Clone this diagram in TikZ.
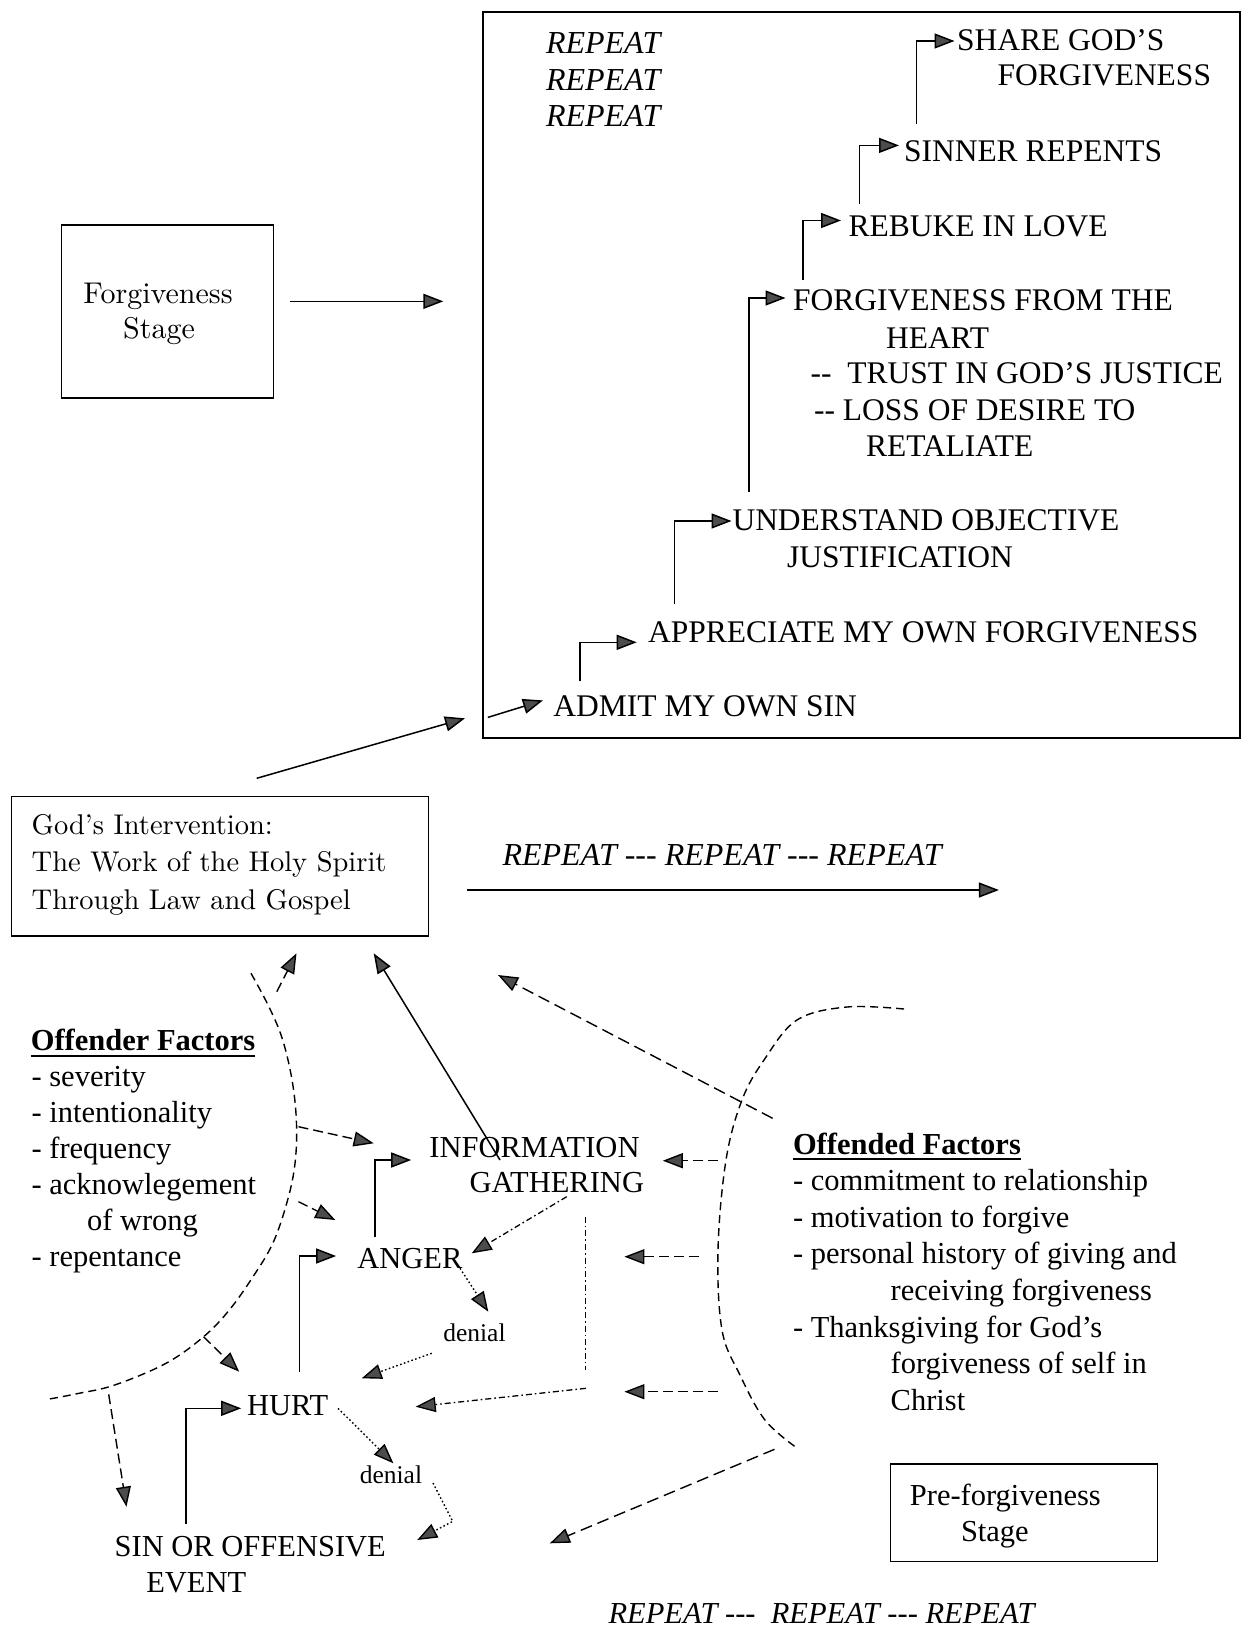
\documentclass[tikz,border=0pt]{standalone}
\usepackage{fontspec}
\newfontfamily\tnr{Liberation Serif}
\newfontfamily\lmten{lmroman10-regular.otf}
\usetikzlibrary{arrows.meta}

\begin{document}
\begin{tikzpicture}[x=1pt,y=-1pt,
  every node/.style={inner sep=0pt, outer sep=0pt},
  caps/.style={anchor=base west, font=\tnr\fontsize{31.5}{36}\selectfont},
  low/.style={anchor=base west, font=\tnr\fontsize{30.5}{36}\selectfont},
  lowb/.style={anchor=base west, font=\tnr\bfseries\fontsize{30.5}{36}\selectfont},
  rep/.style={anchor=base west, font=\tnr\itshape\fontsize{32}{36}\selectfont},
  repb/.style={anchor=base west, font=\tnr\itshape\fontsize{30.5}{36}\selectfont},
  small/.style={anchor=base west, font=\tnr\fontsize{25.5}{30}\selectfont},
  lm/.style={anchor=base west, font=\lmten\fontsize{28.5}{37}\selectfont},
  lmc/.style={anchor=base, font=\lmten\fontsize{30}{36}\selectfont},
  boxframe/.style={draw, line width=1.5pt, anchor=north west},
  ahead/.style={-{Triangle[length=20pt,width=15pt,fill=black!70]}},
  solidarr/.style={ahead, line width=1.5pt},
  dasharr/.style={ahead, line width=1.4pt, dash pattern=on 10pt off 5pt},
  longdash/.style={ahead, line width=1.4pt, dash pattern=on 12pt off 6pt},
  dotarr/.style={ahead, line width=1.4pt, dash pattern=on 1.6pt off 2.4pt},
  ddline/.style={line width=1.3pt, dash pattern=on 6pt off 3pt on 1.6pt off 3pt},
  arcline/.style={line width=1.4pt, dash pattern=on 8pt off 5pt},
  uline/.style={line width=1.5pt}
]
\useasboundingbox (0,0) rectangle (1241,1629);

% ---------- forgiveness stage ----------
\node[boxframe, minimum width=757pt, minimum height=726pt] (bigbox) at (482.8,12) {};
\node[boxframe, minimum width=211.6pt, minimum height=173.3pt] (fbox) at (61.7,224.9) {};
\node[lmc] (f1) at (158,303.3) {Forgiveness};
\node[lmc] (f2) at (159,338) {Stage};
\coordinate (fa) at ([xshift=16.7pt,yshift=10.2pt]fbox.east);
\draw[solidarr, shorten >=39.5pt] (fa) -- (fa -| bigbox.west);

\node[rep] (r1) at (546,54) {REPEAT};
\node[rep] (r2) at (546,90.4) {REPEAT};
\node[rep] (r3) at (546,127) {REPEAT};

\node[caps] (share) at (957,51) {SHARE GOD’S};
\node[caps] (share2) at (997.5,86) {FORGIVENESS};
\node[caps] (sinner) at (904,162) {SINNER REPENTS};
\node[caps] (rebuke) at (848.6,236.6) {REBUKE IN LOVE};
\node[caps] (heart1) at (793,310) {FORGIVENESS FROM THE};
\node[caps] (heart2) at (886,348) {HEART};
\node[caps] (trust) at (810.7,383) {{-}{-}~ TRUST IN GOD’S JUSTICE};
\node[caps] (loss) at (814,420.7) {{-}{-} LOSS OF DESIRE TO};
\node[caps] (retal) at (866,456.6) {RETALIATE};
\node[caps] (under) at (732.5,530.8) {UNDERSTAND OBJECTIVE};
\node[caps] (under2) at (787,567) {JUSTIFICATION};
\node[caps] (appr) at (648,642.3) {APPRECIATE MY OWN FORGIVENESS};
\node[caps] (admit) at (553.4,716.4) {ADMIT MY OWN SIN};

% step connectors
\coordinate (boxin) at (487.8,717.4);
\draw[solidarr] (boxin) -- ([xshift=-10.4pt,yshift=16pt]admit.base west);
\draw[solidarr] ([xshift=26.6pt,yshift=35.4pt]admit.base west) |- ([xshift=-11.3pt]appr.base west);
\draw[solidarr] ([xshift=26.5pt,yshift=38.8pt]appr.base west) |- ([xshift=-1pt,yshift=9.8pt]under.base west);
\draw[solidarr] ([xshift=16.5pt,yshift=38.8pt]under.base west) |- ([xshift=-7.5pt,yshift=12pt]heart1.base west);
\draw[solidarr] ([xshift=10pt,yshift=30pt]heart1.base west) |- ([xshift=-7.6pt,yshift=16.1pt]rebuke.base west);
\draw[solidarr] ([xshift=11.1pt,yshift=33pt]rebuke.base west) |- ([xshift=-5pt,yshift=16.6pt]sinner.base west);
\draw[solidarr] ([xshift=12.7pt,yshift=38.4pt]sinner.base west) |- ([xshift=-2.5pt,yshift=10pt]share.base west);

% ---------- God's intervention ----------
\node[boxframe, minimum width=416.6pt, minimum height=139.3pt] (gbox) at (11.7,796.7) {};
\node[lm] (g1) at (31.7,834) {God’s Intervention:};
\node[lm] (g2) at (31.7,871.7) {The Work of the Holy Spirit};
\node[lm] (g3) at (31.7,909) {Through Law and Gospel};
\draw[solidarr] ([xshift=36.7pt,yshift=18.4pt]gbox.north) -- ([xshift=-17.8pt,yshift=19.7pt]bigbox.south west);

\node[rep] (rmid) at (502.5,865) {REPEAT {-}{-}{-} REPEAT {-}{-}{-} REPEAT};
\draw[solidarr] ([xshift=-35.7pt,yshift=-25pt]rmid.base west) -- ([xshift=496.4pt,yshift=-25pt]rmid.base west);

% ---------- pre-forgiveness stage ----------
\node[lowb] (ofr) at (30.8,1050) {Offender Factors};
\draw[uline] ([yshift=-6pt]ofr.base west) -- ([yshift=-6pt]ofr.base east);
\node[low] (o1) at (31.6,1086.5) {- severity};
\node[low] (o2) at (31.6,1122.5) {- intentionality};
\node[low] (o3) at (31.6,1158.5) {- frequency};
\node[low] (o4) at (31.6,1194.5) {- acknowlegement};
\node[low] (o5) at (87,1230.5) {of wrong};
\node[low] (o6) at (31.6,1266.5) {- repentance};

\node[lowb] (ofd) at (793,1154) {Offended Factors};
\draw[uline] ([yshift=-5pt]ofd.base west) -- ([yshift=-5pt]ofd.base east);
\node[low] (d1) at (793,1190.7) {- commitment to relationship};
\node[low] (d2) at (793,1227) {- motivation to forgive};
\node[low] (d3) at (793,1263.5) {- personal history of giving and};
\node[low] (d4) at (890.7,1300) {receiving forgiveness};
\node[low] (d5) at (793,1337) {- Thanksgiving for God’s};
\node[low] (d6) at (890.7,1373) {forgiveness of self in};
\node[low] (d7) at (890.7,1410) {Christ};

\node[boxframe, minimum width=267.1pt, minimum height=97.7pt] (pbox) at (890.5,1464) {};
\node[low] (p1) at (909.9,1505) {Pre-forgiveness};
\node[low] (p2) at (961,1541.7) {Stage};

\node[low] (info) at (429.4,1157.3) {INFORMATION};
\node[low] (gath) at (469.5,1192.3) {GATHERING};
\node[low] (anger) at (357.3,1268.3) {ANGER};
\node[low] (hurt) at (247.1,1415) {HURT};
\node[low] (sin) at (114.7,1556.7) {SIN OR OFFENSIVE};
\node[low] (sin2) at (146.3,1592.7) {EVENT};
\node[small] (den1) at (443.3,1341.7) {denial};
\node[small] (den2) at (359.8,1483) {denial};

\node[repb] (rbot) at (608.5,1623.5) {REPEAT {-}{-}{-}~ REPEAT {-}{-}{-} REPEAT};

% dashed boundary arcs
\draw[arcline] plot[smooth, tension=0.6] coordinates {(251,973.3) (268.9,1006.7) (282.7,1040) (292.6,1083.3) (296.6,1126.7) (294.6,1166.7) (286.7,1203.3) (272.8,1243.3) (253,1276.7) (229.3,1310) (203.6,1336.7) (166,1363.3) (114.7,1385) (79,1393.3) (49.4,1399)};
\draw[arcline] plot[smooth, tension=0.6] coordinates {(904,1009) (847,1007) (797,1020) (764,1060) (742,1100) (726,1160) (718,1250) (722,1330) (740,1375) (765,1420) (797,1448)};

% offender side influences
\coordinate (la1) at (276.8,991.7);
\coordinate (la2) at (298.5,1126.7);
\coordinate (la3) at (298.5,1201.7);
\coordinate (la4) at (203.6,1336.7);
\coordinate (la5) at (108.7,1394.3);
\draw[dasharr] (la1) -- ([xshift=76.5pt,yshift=-17.3pt]gbox.south);
\draw[dasharr] (la2) -- ([xshift=-55.7pt,yshift=14pt]info.base west);
\draw[dasharr] (la3) -- ([xshift=-22pt,yshift=48.3pt]anger.base west);
\draw[dasharr] (la4) -- ([xshift=-7.9pt,yshift=43.3pt]hurt.base west);
\draw[dasharr] (la5) -- ([xshift=11.8pt,yshift=50pt]sin.base west);

% offended side influences
\coordinate (ra1) at (772.6,1118.3);
\draw[longdash] (ra1) -- ([xshift=69.7pt,yshift=-39pt]gbox.south east);
\coordinate (rs1) at (717.7,1160.7);
\coordinate (rt1) at (662.8,1160.7);
\coordinate (rs2) at (698.5,1256.7);
\coordinate (rt2) at (624.4,1256.7);
\coordinate (rs3) at (717.7,1391.7);
\coordinate (rt3) at (624.4,1391.7);
\draw[dasharr] (rs1) -- (rt1);
\draw[dasharr] (rs2) -- (rt2);
\draw[dasharr] (rs3) -- (rt3);
\coordinate (rs4) at (774.5,1449.3);
\draw[longdash] (rs4) -- ([xshift=435.1pt,yshift=13.4pt]sin.base west);

% main pre-forgiveness chain
\draw[solidarr] ([xshift=70.6pt,yshift=-2.7pt]info.base west) -- ([xshift=-54.6pt,yshift=-17.3pt]gbox.south east);
\draw[solidarr] ([xshift=17.5pt,yshift=31.6pt]anger.base west) |- ([xshift=-18.2pt,yshift=-2.7pt]info.base west);
\draw[solidarr] ([xshift=52.6pt,yshift=43.3pt]hurt.base west) |- ([xshift=-21.2pt,yshift=12.3pt]anger.base west);
\draw[solidarr] ([xshift=71.1pt,yshift=32.7pt]sin.base west) |- ([xshift=-5.9pt,yshift=6.7pt]hurt.base west);

% feedback and denial paths
\draw[ddline, ahead] ([xshift=97.2pt,yshift=-4.4pt]gath.base west) -- ([xshift=114.4pt,yshift=15pt]anger.base west);
\draw[dotarr] ([xshift=102.7pt]anger.base west) -- ([xshift=45pt,yshift=30pt]den1.base west);
\draw[dotarr] ([xshift=-11.6pt,yshift=-11.6pt]den1.base west) -- ([xshift=114.6pt,yshift=36.7pt]hurt.base west);
\draw[dotarr] ([xshift=90.9pt,yshift=6.7pt]hurt.base west) -- ([xshift=33.6pt,yshift=19.7pt]den2.base west);
\draw[dotarr] ([xshift=73.2pt]den2.base west) -- ++(19.7,38.4) -- ([xshift=302.5pt,yshift=16.7pt]sin.base west);
\draw[ddline] ([xshift=116pt,yshift=-24.4pt]gath.base west) -- ++(0,153.3) coordinate (vend);
\draw[ddline, ahead] ([xshift=0.4pt,yshift=-18.3pt]vend) -- ([xshift=168.6pt,yshift=8.3pt]hurt.base west);
\end{tikzpicture}
\end{document}
